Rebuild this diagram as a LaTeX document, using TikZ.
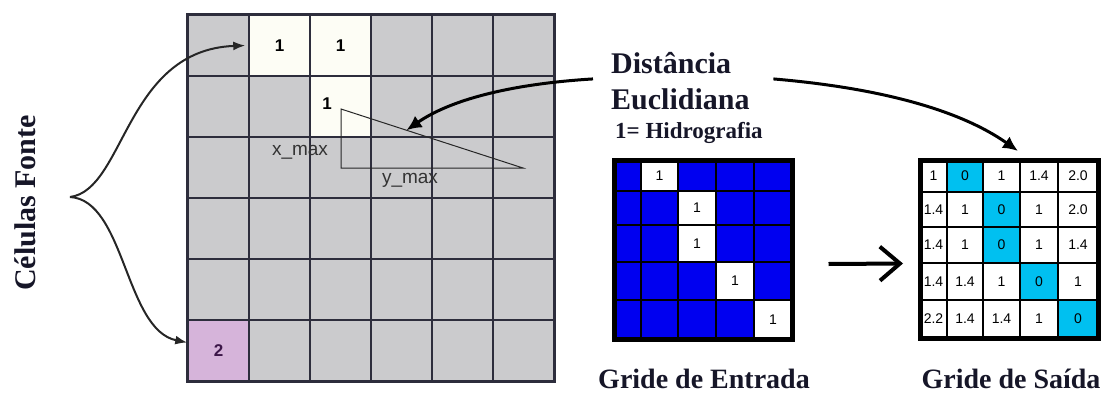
\documentclass[tikz,border=0pt]{standalone}
\usepackage{fontspec}
\setmainfont{Liberation Serif}
\setsansfont{Liberation Sans}
\usetikzlibrary{arrows.meta,positioning,calc}
\definecolor{cellgray}{RGB}{203,203,205}
\definecolor{srccream}{RGB}{253,253,245}
\definecolor{srcpurple}{RGB}{214,180,218}
\definecolor{deeppurple}{RGB}{60,22,72}
\definecolor{gridline}{RGB}{45,45,60}
\definecolor{hidroblue}{RGB}{0,0,240}
\definecolor{distcyan}{RGB}{0,192,240}
\definecolor{inknavy}{RGB}{22,22,40}

\begin{document}
\begin{tikzpicture}[x=1pt,y=-1pt,
  cell/.style={draw=gridline,line width=1.5pt,fill=cellgray,minimum size=61pt,inner sep=0pt,font=\sffamily\bfseries\fontsize{17}{17}\selectfont},
  src/.style={cell,fill=srccream},
  num/.style={inner sep=0pt,font=\sffamily\bfseries\fontsize{17}{17}\selectfont},
  title/.style={inner sep=0pt,text=inknavy,font=\bfseries\fontsize{30}{30}\selectfont},
  sub/.style={inner sep=0pt,text=inknavy,font=\bfseries\fontsize{23}{23}\selectfont},
  caption/.style={inner sep=0pt,text=inknavy,font=\bfseries\fontsize{28}{28}\selectfont},
  axis/.style={inner sep=0pt,text=black!80,font=\sffamily\fontsize{19}{19}\selectfont},
  icell/.style={draw=black,line width=1.8pt,inner sep=0pt,font=\sffamily\fontsize{14}{14}\selectfont},
  ocell/.style={draw=black,line width=1.5pt,inner sep=0pt,font=\sffamily\fontsize{14}{14}\selectfont},
  frame/.style={draw=black,line width=5pt,inner sep=0pt},
  arr/.style={-{Latex[length=15pt,width=14pt]},line width=3pt},
  brace/.style={-{Latex[length=12pt,width=9pt]},line width=2pt,draw=black!85},
  turn/.style={-{Straight Barb[length=20pt,width=34pt]},line width=4pt}
]
\useasboundingbox (0,0) rectangle (1112,394);

% source grid
\foreach \r in {1,...,6}
  \foreach \c in {1,...,6}
    \node[cell] (g\r\c) at ({188+61*(\c-0.5)},{15+61*(\r-0.5)}) {};
\node[src] (s12) at (g12) {1};
\node[src] (s13) at (g13) {1};
\node[src] (s23) at (g23) {};
\node[cell,fill=srcpurple,text=deeppurple] (s61) at (g61) {2};
\node[num] (n23) at (327,104) {1};
\draw[gridline,line width=2.2pt] (g11.north west) rectangle (g66.south east);

% distance triangle
\coordinate (ta) at (341,109);
\coordinate (tb) at (341,168);
\coordinate (tc) at (523,168);
\draw[line width=1pt,black!85] (ta) -- (tb) -- (tc) -- cycle;
\coordinate (hyp) at ($(ta)!0.36!(tc)$);
\node[axis] (xmax) at (300,152) {x\_max};
\node[axis] (ymax) at (410,180) {y\_max};

% labels
\node[title,rotate=90] (fonte) at (25,203) {Células Fonte};
\node[title,anchor=west] (dist) at (611,63) {Distância};
\node[title,anchor=west] (eucl) at (611,99) {Euclidiana};
\node[sub,anchor=west] (hidro) at (615,133) {1= Hidrografia};
\node[caption] (entrada) at (704,379) {Gride de Entrada};
\node[caption] (saida) at (1011,379) {Gride de Saída};

% input grid
\foreach \row [count=\r] in {{0,1,0,0,0},{0,0,1,0,0},{0,0,1,0,0},{0,0,0,1,0},{0,0,0,0,1}}
  \foreach \v [count=\c] in \row {
    \pgfmathsetmacro\xc{{627.5,659.5,697,735,773}[\c-1]}
    \pgfmathsetmacro\wc{{27,37,38,38,38}[\c-1]}
    \pgfmathsetmacro\yc{{175.5,208,243.5,281,319.5}[\r-1]}
    \pgfmathsetmacro\hc{{31,34,37,38,39}[\r-1]}
    \ifnum\v=1 \def\cf{white}\else\def\cf{hidroblue}\fi
    \node[icell,fill=\cf,minimum width=\wc pt,minimum height=\hc pt] (i\r\c) at (\xc,\yc) {\ifnum\v=1 1\fi};
  }
\node[frame,minimum width=178pt,minimum height=179pt] (gin) at (703,249.5) {};

% output grid
\foreach \row [count=\r] in {{1,0,1,1.4,2.0},{1.4,1,0,1,2.0},{1.4,1,0,1,1.4},{1.4,1.4,1,0,1},{2.2,1.4,1.4,1,0}}
  \foreach \v [count=\c] in \row {
    \pgfmathsetmacro\xc{{933.5,965,1001.5,1039,1078}[\c-1]}
    \pgfmathsetmacro\wc{{27,36,37,38,40}[\c-1]}
    \pgfmathsetmacro\yc{{176,209.5,245,281.5,319}[\r-1]}
    \pgfmathsetmacro\hc{{32,35,36,37,38}[\r-1]}
    \ifdim\v pt=0pt \def\cf{distcyan}\else\def\cf{white}\fi
    \node[ocell,fill=\cf,minimum width=\wc pt,minimum height=\hc pt] (o\r\c) at (\xc,\yc) {\v};
  }
\node[frame,minimum width=178pt,minimum height=178pt] (gout) at (1009,249) {};

% arrows
\coordinate (tip) at (70,197);
\draw[brace] (tip) .. controls (125,190) and (125,50) .. ([xshift=-3pt]s12.west);
\draw[brace] (tip) .. controls (125,200) and (125,330) .. ([yshift=8pt]s61.west);
\draw[arr] ([xshift=-18pt,yshift=-5pt]dist.south west) .. controls (510,84) and (450,100) .. (hyp);
\draw[arr] ([xshift=42pt,yshift=-5pt]dist.south east) .. controls (880,88) and (960,110) .. ([xshift=9pt,yshift=6.5pt]gout.north);
\draw[turn] ([xshift=34pt,yshift=-14.5pt]gin.east) -- ([xshift=-14.5pt,yshift=-14.5pt]gout.west);
\end{tikzpicture}
\end{document}
